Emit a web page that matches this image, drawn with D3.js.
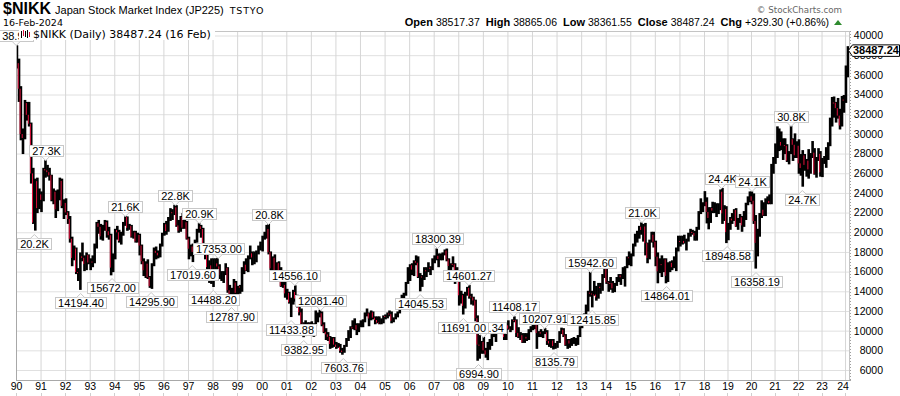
<!DOCTYPE html>
<html>
<head>
<meta charset="utf-8">
<script src="https://cdn.jsdelivr.net/npm/d3@7"></script>
<style>
body { margin: 0; background: #fff; }
svg { display: block; }
</style>
</head>
<body>
<div id="chart"></div>
<script>
// $NIKK monthly bars, Jan 1990 .. Feb 2024
const startYear = 1990;
const prevClose = 38916;   // Dec 1989 close, open of the first bar

const closes = [
  37189, 34591, 29980, 29585, 33131, 31940, 31036, 25978, 20984, 25194, 22455, 23849,
  23293, 26409, 26292, 26111, 25790, 23291, 24121, 22336, 23916, 25222, 22687, 22984,
  22023, 21339, 19346, 17391, 18348, 15952, 15910, 17555, 17399, 16768, 17684, 16925,
  17024, 16953, 18591, 20919, 20552, 19590, 20380, 21027, 20106, 19703, 16408, 17417,
  20229, 19997, 19112, 19725, 20974, 21552, 20449, 20629, 19564, 19990, 19076, 19723,
  18650, 17053, 16140, 16807, 15437, 14517, 16678, 18117, 17913, 17655, 18744, 19868,
  20813, 20125, 21407, 22041, 21956, 22531, 20693, 20167, 21556, 20467, 21020, 19361,
  18330, 18557, 18003, 19151, 20069, 20605, 20331, 18229, 17888, 16459, 16636, 15259,
  16628, 16831, 16527, 15641, 15671, 15830, 16379, 14108, 13406, 13565, 14883, 13842,
  14499, 14368, 15837, 16701, 16112, 17530, 17862, 17437, 17605, 17942, 18558, 18934,
  19540, 19960, 20337, 17974, 16332, 17411, 15727, 16861, 15747, 14539, 14649, 13786,
  13844, 12884, 12999, 13934, 13262, 12969, 11861, 10714, 9775, 10367, 10697, 10543,
  9998, 10588, 11025, 11493, 11764, 10622, 9878, 9619, 9383, 8640, 9216, 8579,
  8340, 8363, 7973, 7831, 8425, 9083, 9563, 10344, 10219, 10560, 10101, 10677,
  10784, 11042, 11715, 11762, 11237, 11859, 11326, 11082, 10824, 10771, 10899, 11489,
  11388, 11741, 11669, 11009, 11277, 11584, 11900, 12414, 13574, 13607, 14872, 16111,
  16650, 16206, 17060, 16906, 15468, 15505, 15457, 16141, 16128, 16399, 16274, 17226,
  17383, 17604, 17288, 17400, 17876, 18138, 17249, 16569, 16786, 16738, 15681, 15308,
  13592, 13603, 12526, 13850, 14339, 13481, 13377, 13073, 11260, 8577, 8512, 8860,
  7994, 7568, 8110, 8828, 9523, 9958, 10357, 10493, 10133, 10035, 9346, 10546,
  10198, 10126, 11090, 11057, 9769, 9383, 9537, 8824, 9369, 9202, 9937, 10229,
  10238, 10624, 9755, 9850, 9694, 9816, 9833, 8955, 8700, 8988, 8435, 8455,
  8803, 9723, 10084, 9521, 8543, 9007, 8695, 8840, 8870, 8928, 9446, 10395,
  11139, 11559, 12398, 13861, 13775, 13677, 13668, 13389, 14456, 14328, 15662, 16291,
  14915, 14841, 14828, 14304, 14632, 15162, 15621, 15425, 16174, 16414, 17460, 17451,
  17674, 18798, 19207, 19520, 20563, 20236, 20585, 18890, 17388, 19083, 19747, 19034,
  17518, 16027, 16759, 16666, 17235, 15576, 16569, 16887, 16450, 17425, 18308, 19114,
  19041, 19119, 18909, 19197, 19651, 20033, 19925, 19646, 20356, 22012, 22725, 22765,
  23098, 22068, 21454, 22468, 22202, 22305, 22554, 22865, 24120, 21920, 22351, 20015,
  20773, 21385, 21206, 22259, 20601, 21276, 21522, 20704, 21756, 22927, 23294, 23657,
  23205, 21143, 18917, 20194, 21878, 22288, 21710, 23140, 23185, 22977, 26434, 27444,
  27663, 28966, 29179, 28813, 28860, 28792, 27284, 28090, 29453, 28893, 27822, 28792,
  27002, 26527, 27821, 26848, 27280, 26393, 27802, 28092, 25937, 27587, 27969, 26095,
  27327, 27446, 28041, 28856, 30888, 33189, 33172, 32619, 31858, 30859, 33487, 33464,
  36287, 38487
];

const highs = [
  38950, 37600, 34800, 30500, 33400, 33200, 33200, 31100, 26500, 25400, 25500, 24400,
  24100, 26500, 27270, 26800, 26500, 25800, 24400, 24200, 24300, 25500, 25400, 23300,
  23400, 22100, 21600, 19500, 18600, 18400, 16300, 17900, 18900, 17600, 17900, 17700,
  17300, 17600, 18800, 21000, 21200, 20800, 20700, 21200, 21148, 20500, 19800, 17800,
  20300, 20600, 20200, 20000, 21000, 21573, 21560, 20800, 20700, 20100, 20100, 19900,
  19800, 18700, 17300, 17000, 17200, 15500, 16800, 18400, 18500, 18100, 18800, 19900,
  20900, 21100, 21500, 22400, 22300, 22750, 22700, 21200, 21600, 21900, 21400, 21100,
  19500, 18700, 18800, 19200, 20300, 20910, 20700, 20400, 18300, 18100, 17100, 17300,
  17300, 17300, 17353, 16700, 16000, 16000, 16800, 16400, 14600, 14300, 15200, 15000,
  14500, 14600, 16400, 17000, 17300, 17600, 18600, 18000, 18000, 18100, 18600, 19000,
  19600, 20000, 20700, 20833, 18000, 17500, 17700, 16900, 17000, 16400, 15200, 14900,
  14200, 13900, 13300, 14100, 14556, 13600, 13100, 12200, 10800, 11000, 10800, 10800,
  10900, 10700, 12000, 11800, 12081, 11900, 10800, 10200, 9800, 9400, 9300, 9300,
  8800, 8700, 8600, 8200, 8500, 9200, 10000, 10400, 11000, 11200, 10700, 10700,
  11000, 11100, 11800, 12200, 11800, 12000, 11900, 11400, 11400, 11400, 11200, 11500,
  11600, 11800, 12000, 11900, 11300, 11700, 11900, 12500, 13600, 13800, 14900, 16400,
  16700, 16800, 17100, 17600, 17500, 15800, 15600, 16400, 16400, 16900, 16500, 17300,
  17600, 18300, 17800, 17800, 17900, 18200, 18295, 17300, 16800, 17500, 16800, 16400,
  15400, 14000, 13700, 13900, 14400, 14601, 13700, 13400, 13100, 11500, 9500, 8900,
  9325, 8200, 8800, 9100, 9600, 10200, 10400, 10800, 10600, 10300, 10200, 10700,
  11000, 10400, 11100, 11408, 11100, 10300, 9800, 9700, 9700, 9700, 10100, 10400,
  10600, 10900, 10900, 9900, 10100, 9900, 10208, 10000, 9100, 9100, 9100, 8700,
  8900, 9900, 10255, 10200, 9600, 9100, 9100, 9200, 9300, 9200, 9500, 10400,
  11200, 11700, 12600, 14000, 15943, 14000, 15000, 14500, 14800, 14800, 15700, 16300,
  16300, 15000, 15400, 15000, 14800, 15400, 15700, 15700, 16400, 16500, 17500, 18000,
  17800, 18800, 19800, 20100, 20600, 20953, 20800, 20900, 18900, 19200, 20000, 20000,
  19100, 17900, 17300, 17600, 17300, 17300, 16900, 17000, 17100, 17500, 18400, 19600,
  19600, 19600, 19700, 19300, 19900, 20300, 20200, 20100, 20500, 22100, 23400, 23000,
  24130, 23500, 22500, 22500, 23050, 23000, 22900, 22900, 24300, 24448, 22700, 22600,
  20900, 21500, 21900, 22300, 22400, 21400, 21800, 21600, 22100, 22950, 23600, 24100,
  24116, 23900, 21700, 20300, 21900, 23200, 23000, 23400, 23600, 23800, 26900, 27600,
  28980, 30714, 30500, 30200, 29500, 29500, 28900, 28200, 30796, 29500, 30000, 29200,
  29400, 27900, 28300, 27900, 27400, 28400, 28000, 29222, 28500, 27600, 28500, 28200,
  27500, 27700, 28600, 29100, 31600, 33700, 33750, 33200, 33600, 32500, 33800, 33900,
  36900, 38865
];

const lows = [
  36700, 33300, 29400, 28000, 29500, 31400, 30800, 25000, 20900, 20221, 22000, 22400,
  22100, 23200, 25600, 25700, 25300, 23200, 22900, 21500, 22200, 23300, 22500, 21400,
  21800, 20900, 19000, 16600, 17200, 15800, 15100, 14194, 17100, 16100, 16200, 16800,
  16200, 16500, 16900, 18400, 19900, 19300, 19200, 20200, 19500, 19300, 15672, 16000,
  17300, 19300, 19000, 18800, 19700, 20700, 20200, 20300, 19500, 19400, 19000, 19000,
  17700, 16800, 15600, 15400, 15300, 14400, 14296, 16600, 17300, 17400, 17500, 18600,
  19700, 19800, 20100, 21200, 21300, 21800, 20600, 20000, 20100, 20400, 20400, 19300,
  17300, 17600, 17020, 17800, 19000, 20000, 19500, 18000, 17300, 16300, 14900, 14800,
  14488, 16000, 16200, 15300, 15100, 14900, 15700, 13900, 13200, 12788, 13500, 13400,
  13200, 13800, 14000, 15800, 16100, 16000, 17300, 16700, 16800, 17000, 17800, 18200,
  18100, 19300, 19400, 17800, 16000, 16100, 15700, 15600, 15600, 14500, 14400, 13400,
  13200, 12800, 11434, 12700, 13000, 12400, 11600, 10700, 9383, 9500, 10000, 10000,
  9900, 9420, 10500, 10900, 11400, 10500, 9800, 9100, 9000, 8200, 8300, 8400,
  8200, 8300, 7800, 7604, 7800, 8400, 9000, 9300, 10200, 10100, 9600, 9900,
  10400, 10400, 10900, 11500, 10500, 11100, 11200, 10700, 10800, 10700, 10700, 10800,
  11200, 11300, 11500, 10800, 10900, 11200, 11400, 11800, 12400, 13000, 13600, 14800,
  15100, 15700, 15600, 16700, 15400, 14046, 14500, 15200, 15500, 16000, 15700, 16200,
  16900, 17200, 16500, 17200, 17200, 17700, 17100, 15300, 15800, 16500, 14800, 15100,
  12600, 12800, 11691, 12300, 13600, 13300, 12700, 12600, 11000, 6995, 7200, 7700,
  7700, 7300, 7055, 8100, 8500, 9400, 8900, 10200, 9900, 9700, 9100, 9100,
  10150, 9900, 10100, 10900, 9400, 9300, 9100, 8800, 8800, 9000, 9100, 9900,
  10100, 10200, 8200, 9400, 9400, 9300, 9700, 8600, 8400, 8300, 8136, 8200,
  8300, 8800, 9700, 9400, 8500, 8200, 8300, 8500, 8700, 8500, 8600, 9400,
  10300, 10900, 11400, 12000, 13500, 12416, 13600, 13100, 13300, 13800, 14100, 15400,
  14800, 14000, 14200, 13900, 13964, 14600, 15000, 14700, 15300, 14529, 16400, 16700,
  16600, 17600, 18600, 19000, 19400, 19800, 19100, 17700, 16900, 17300, 19000, 18500,
  16600, 14865, 15900, 15500, 16000, 14864, 15000, 16000, 16200, 16400, 16100, 18100,
  18600, 18800, 18900, 18200, 19100, 19600, 19800, 19200, 19200, 20300, 21900, 22100,
  22700, 20950, 20350, 21000, 22000, 22000, 21600, 21900, 22300, 20900, 21200, 18949,
  19240, 20300, 20900, 21200, 20600, 20300, 21000, 20100, 20600, 21300, 22800, 23100,
  22900, 20900, 16358, 17600, 19600, 21500, 21700, 21700, 22900, 22900, 22900, 26000,
  27000, 27600, 28300, 28400, 27400, 28000, 27200, 26954, 28000, 27300, 27600, 27600,
  26000, 25800, 24682, 26300, 25700, 25500, 26000, 27600, 25900, 25600, 27300, 25700,
  25660, 27000, 26600, 27400, 28800, 30800, 31700, 31200, 31600, 30500, 30800, 32200,
  33200, 35800
];

// peak / trough call-outs: [date, value, text]
const peaks = [
  ["1990-01-04", 38950, "38.9K"],
  ["1991-03-18", 27270, "27.3K"],
  ["1994-06-13", 21573, "21.6K"],
  ["1996-06-26", 22750, "22.8K"],
  ["1997-06-16", 20910, "20.9K"],
  ["1998-03-26", 17353.00, "17353.00"],
  ["2000-04-12", 20833, "20.8K"],
  ["2001-05-07", 14556.10, "14556.10"],
  ["2002-05-27", 12081.40, "12081.40"],
  ["2007-02-26", 18300.39, "18300.39"],
  ["2008-06-06", 14601.27, "14601.27"],
  ["2009-01-07", 9325.34, "9325.34"],
  ["2010-04-05", 11408.17, "11408.17"],
  ["2011-07-08", 10207.91, "10207.91"],
  ["2013-05-23", 15942.60, "15942.60"],
  ["2015-06-24", 20952, "21.0K"],
  ["2018-10-02", 24448, "24.4K"],
  ["2020-01-17", 24116, "24.1K"],
  ["2021-09-14", 30796, "30.8K"]
];
const troughs = [
  ["1990-10-01", 20221, "20.2K"],
  ["1992-08-18", 14194.40, "14194.40"],
  ["1993-11-29", 15672.00, "15672.00"],
  ["1995-07-03", 14295.90, "14295.90"],
  ["1997-03-05", 17019.60, "17019.60"],
  ["1998-01-12", 14488.20, "14488.20"],
  ["1998-10-09", 12787.90, "12787.90"],
  ["2001-03-13", 11433.88, "11433.88"],
  ["2001-09-17", 9382.95, "9382.95"],
  ["2003-04-28", 7603.76, "7603.76"],
  ["2006-06-14", 14045.53, "14045.53"],
  ["2008-03-17", 11691.00, "11691.00"],
  ["2008-10-28", 6994.90, "6994.90"],
  ["2011-11-25", 8135.79, "8135.79"],
  ["2013-06-13", 12415.85, "12415.85"],
  ["2016-06-24", 14864.01, "14864.01"],
  ["2018-12-26", 18948.58, "18948.58"],
  ["2020-03-19", 16358.19, "16358.19"],
  ["2022-03-09", 24681.74, "24.7K"]
];

const yTickValues = [6000, 8000, 10000, 12000, 14000, 16000, 18000, 20000, 22000,
  24000, 26000, 28000, 30000, 32000, 34000, 36000, 38000, 40000];
const yearTicks = [1990, 1991, 1992, 1993, 1994, 1995, 1996, 1997, 1998, 1999, 2000,
  2001, 2002, 2003, 2004, 2005, 2006, 2007, 2008, 2009, 2010, 2011, 2012, 2013, 2014,
  2015, 2016, 2017, 2018, 2019, 2020, 2021, 2022, 2023, 2024];

const lastClose = "38487.24";
const ohlc = [["Open", "38517.37"], ["High", "38865.06"], ["Low", "38361.55"],
  ["Close", "38487.24"], ["Chg", "+329.30 (+0.86%)"]];

const W = 900, H = 396;
const plot = { left: 16, right: 849, top: 31, bottom: 380 };
const labelFont = "'Liberation Sans Narrow', 'Arial Narrow', 'Liberation Sans', sans-serif";

const svg = d3.select("#chart").append("svg")
  .attr("width", W).attr("height", H)
  .style("font-family", "'Liberation Sans', Arial, sans-serif");

// x follows trading days, the last years are a bit tighter
const x = d3.scaleTime()
  .domain([new Date(1990, 0, 1), new Date(2018, 0, 1), new Date(2024, 1, 16)])
  .range([plot.left, 704, plot.right - 1]);
const y = d3.scaleLinear().domain([6000, 40000]).range([370, 35.5]);
const parse = d3.timeParse("%Y-%m-%d");

// grid
svg.append("g")
  .attr("transform", "translate(" + plot.left + ",0)")
  .call(d3.axisLeft(y).tickValues(yTickValues).tickSize(-(plot.right - plot.left)).tickFormat(""))
  .call(g => g.select(".domain").remove())
  .call(g => g.selectAll("line").attr("stroke", "#e0e0e0"));

svg.append("g")
  .attr("transform", "translate(0," + plot.bottom + ")")
  .call(d3.axisBottom(x).tickValues(yearTicks.map(d => new Date(d, 0, 1)))
    .tickSize(-(plot.bottom - plot.top)).tickFormat(""))
  .call(g => g.select(".domain").remove())
  .call(g => g.selectAll("line").attr("stroke", "#d6d6d6"));

// frame
svg.append("rect")
  .attr("x", plot.left + 0.5).attr("y", plot.top + 0.5)
  .attr("width", plot.right - plot.left).attr("height", plot.bottom - plot.top)
  .attr("fill", "none").attr("stroke", "#c4c4c4");
svg.append("line")
  .attr("x1", plot.left + 0.5).attr("x2", plot.left + 0.5)
  .attr("y1", plot.top).attr("y2", plot.bottom)
  .attr("stroke", "#a8a8a8");
svg.append("line")
  .attr("x1", plot.left).attr("x2", plot.right + 2)
  .attr("y1", plot.bottom + 0.5).attr("y2", plot.bottom + 0.5)
  .attr("stroke", "#a8a8a8");
svg.append("line")
  .attr("x1", plot.right + 1.5).attr("x2", plot.right + 1.5)
  .attr("y1", plot.top).attr("y2", plot.bottom)
  .attr("stroke", "#a0a0a0").attr("stroke-dasharray", "1,2");

// y axis labels, right side
svg.append("g")
  .attr("transform", "translate(" + (plot.right + 34) + ",0)")
  .call(d3.axisRight(y).tickValues(yTickValues).tickSize(0).tickPadding(0).tickFormat(d3.format("d")))
  .call(g => g.select(".domain").remove())
  .call(g => g.selectAll("text")
    .attr("text-anchor", "end")
    .attr("font-family", "'Liberation Sans', Arial, sans-serif")
    .attr("font-size", 10.5)
    .attr("fill", "#000"));

// x axis labels
const xAxis = svg.append("g")
  .attr("transform", "translate(0," + plot.bottom + ")")
  .call(d3.axisBottom(x).tickValues(yearTicks.map(d => new Date(d, 0, 1)))
    .tickSize(0).tickPadding(3).tickFormat(d3.timeFormat("%y")))
  .call(g => g.select(".domain").remove())
  .call(g => g.selectAll("text")
    .attr("font-family", "'Liberation Sans', Arial, sans-serif")
    .attr("font-size", 10.5)
    .attr("fill", "#000"));
xAxis.selectAll(".tick").filter(d => x(d) > plot.right - 6)
  .attr("transform", "translate(" + (plot.right - 6) + ",0)");

// small marks under the axis
svg.append("g").selectAll("line").data(yearTicks).join("line")
  .attr("x1", d => Math.round(x(new Date(d, 0, 1))) + 0.5)
  .attr("x2", d => Math.round(x(new Date(d, 0, 1))) + 0.5)
  .attr("y1", 393).attr("y2", 396)
  .attr("stroke", "#cfcfcf");

// price bars
const bars = closes.map((c, i) => ({
  date: new Date(startYear, i, 15),
  open: i ? closes[i - 1] : prevClose,
  high: highs[i], low: lows[i], close: c
}));

svg.append("clipPath").attr("id", "clip")
  .append("rect").attr("x", plot.left + 1).attr("y", plot.top + 1)
  .attr("width", plot.right - plot.left - 1).attr("height", plot.bottom - plot.top - 1);

const barG = svg.append("g").attr("clip-path", "url(#clip)");
barG.selectAll("rect.hl").data(bars).join("rect")
  .attr("class", "hl")
  .attr("x", d => x(d.date) - 1.3)
  .attr("width", 2.6)
  .attr("y", d => y(d.high) - 0.5)
  .attr("height", d => Math.max(1, y(d.low) - y(d.high) + 1))
  .attr("fill", "#000");
barG.selectAll("rect.dn").data(bars.filter(d => d.close < d.open)).join("rect")
  .attr("class", "dn")
  .attr("x", d => x(d.date) - 1.3)
  .attr("width", 1)
  .attr("y", d => y(d.open))
  .attr("height", d => Math.max(1, y(d.close) - y(d.open)))
  .attr("fill", "#e0103c");

// call-outs
const noteG = svg.append("g");
function callout(d, isPeak) {
  const px = x(parse(d[0])), py = y(d[1]);
  const g = noteG.append("g");
  const t = g.append("text").text(d[2])
    .attr("font-family", labelFont).attr("font-size", 11)
    .attr("text-anchor", "middle").attr("fill", "#000");
  const w = t.node().getComputedTextLength() + 5, h = 11;
  const top = isPeak ? py - 4.5 - h : py + 7.5;
  const bx = Math.round(px - w / 2) + 0.5, by = Math.round(top) + 0.5;
  const pyEdge = isPeak ? by + h : by;
  const tip = isPeak ? pyEdge + 4 : pyEdge - 4;
  g.insert("rect", "text")
    .attr("x", bx).attr("y", by).attr("width", Math.round(w)).attr("height", h)
    .attr("fill", "#fff").attr("stroke", "#c8c8c8");
  g.insert("path", "text")
    .attr("d", "M" + (px - 4) + "," + pyEdge + "L" + px + "," + tip + "L" + (px + 4) + "," + pyEdge)
    .attr("fill", "#fff").attr("stroke", "#c8c8c8");
  t.attr("x", bx + Math.round(w) / 2).attr("y", by + 9);
}
peaks.forEach(d => callout(d, true));
troughs.forEach(d => callout(d, false));

// legend in the plot
const leg = svg.append("g");
leg.append("rect").attr("x", 19).attr("y", 28).attr("width", 196).attr("height", 12).attr("fill", "#fff");
const icon = leg.append("g").attr("stroke-width", 1);
[[21, 31, 38, "#000"], [23, 30, 36, "#e0103c"], [25, 31, 37, "#000"], [27, 30, 38, "#000"], [29, 32, 37, "#e0103c"]]
  .forEach(b => icon.append("line")
    .attr("x1", b[0] + 0.5).attr("x2", b[0] + 0.5).attr("y1", b[1]).attr("y2", b[2]).attr("stroke", b[3]));
leg.append("text")
  .attr("x", 33).attr("y", 38)
  .attr("font-family", "'DejaVu Sans', Verdana, sans-serif").attr("font-size", 11)
  .text("$NIKK (Daily) " + lastClose + " (16 Feb)");

// header
const head = svg.append("text").attr("x", 3).attr("y", 14);
head.append("tspan").attr("font-weight", "bold").attr("font-size", 16).text("$NIKK");
head.append("tspan").attr("font-size", 11).attr("dx", 4).text("Japan Stock Market Index (JP225)");
head.append("tspan").attr("font-family", "'DejaVu Sans', Verdana, sans-serif").attr("font-size", 9.5)
  .attr("dx", 6).attr("letter-spacing", 0.8).text("TSTYO");
svg.append("text").attr("x", 3).attr("y", 26)
  .attr("font-family", "'DejaVu Sans', Verdana, sans-serif").attr("font-size", 9.5)
  .text("16-Feb-2024");

svg.append("text").attr("x", 842).attr("y", 13).attr("text-anchor", "end")
  .attr("font-family", "'DejaVu Sans', Verdana, sans-serif").attr("font-size", 8.7)
  .attr("fill", "#666").text("\u00a9 StockCharts.com");

const q = svg.append("text").attr("x", 829).attr("y", 26).attr("text-anchor", "end");
ohlc.forEach((p, i) => {
  q.append("tspan").attr("font-weight", "bold").attr("font-size", 11)
    .attr("dx", i ? 6 : 0).text(p[0]);
  q.append("tspan").attr("font-size", 10.5).attr("dx", 3).text(p[1]);
});
svg.append("path").attr("d", "M834,25L842,25L838,20Z").attr("fill", "#2e8b2e");

// last price tag
const ly = y(+lastClose);
svg.append("path")
  .attr("d", "M" + (plot.right - 0.5) + "," + ly + "L" + (plot.right + 3.5) + "," + (ly - 5.5) +
    "H899.5V" + (ly + 6) + "H" + (plot.right + 3.5) + "Z")
  .attr("fill", "#fff").attr("stroke", "#000");
svg.append("text").attr("x", plot.right + 4).attr("y", ly + 4)
  .attr("font-weight", "bold").attr("font-size", 11).text(lastClose);
</script>
</body>
</html>
